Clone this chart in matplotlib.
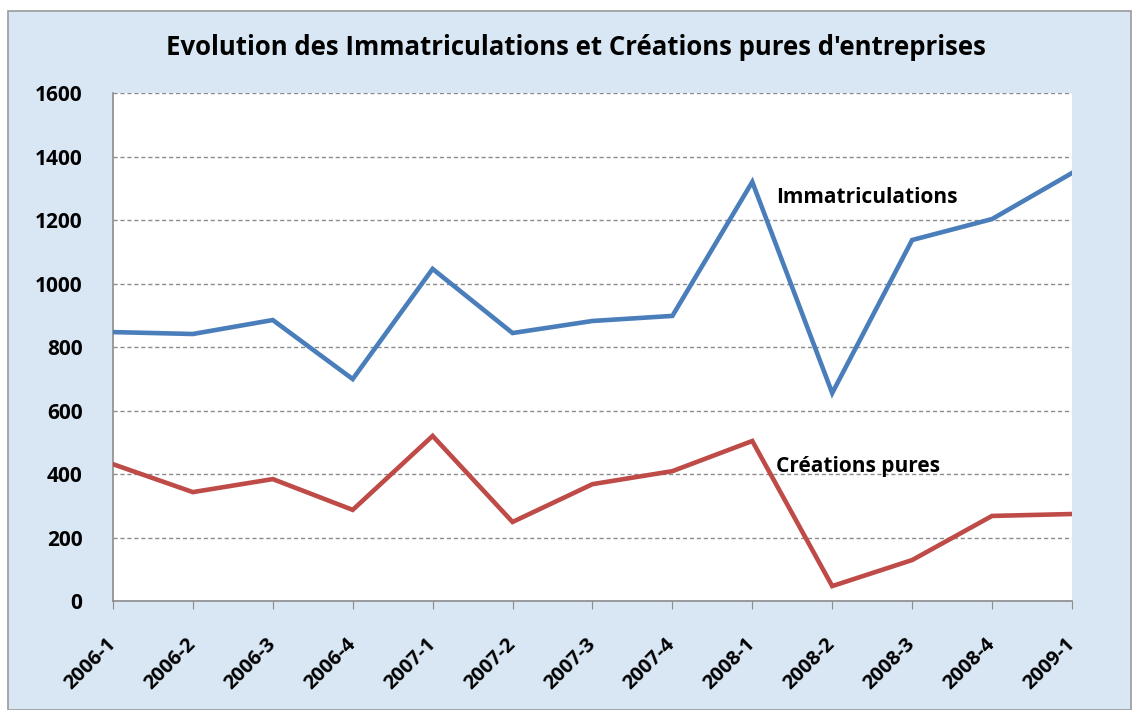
import matplotlib
matplotlib.use("Agg")
import matplotlib.pyplot as plt
from matplotlib.patches import Rectangle

plt.rcParams['font.family'] = ['Open Sans', 'DejaVu Sans']

# data
periodes = ['2006-1', '2006-2', '2006-3', '2006-4', '2007-1', '2007-2', '2007-3',
            '2007-4', '2008-1', '2008-2', '2008-3', '2008-4', '2009-1']
immatriculations = [847, 841, 885, 699, 1046, 844, 882, 898, 1320, 655, 1137, 1203, 1348]
creations_pures = [431, 343, 384, 287, 520, 249, 368, 409, 504, 47, 129, 268, 274]

fig = plt.figure(figsize=(11.34, 7.10), dpi=100)
fig.patch.set_facecolor('white')

# light blue chart area with grey border
fig.patches.append(Rectangle((0.007, 0.0), 0.99, 0.985, transform=fig.transFigure,
                             facecolor='#d9e6f3', edgecolor='#9a9a9a', linewidth=1.2, zorder=-1))

ax = fig.add_axes([0.0996, 0.1535, 0.8457, 0.7155])
ax.set_zorder(2)
ax.set_facecolor('white')

x = list(range(len(periodes)))
ax.plot(x, immatriculations, color='#4a7ebb', linewidth=3.3, solid_joinstyle='miter', zorder=3)
ax.plot(x, creations_pures, color='#be4b48', linewidth=3.3, solid_joinstyle='miter', zorder=3)

ax.set_xlim(0, len(periodes) - 1)
ax.set_ylim(0, 1600)
ax.set_yticks(range(0, 1601, 200))
ax.set_xticks(x)
ax.set_xticklabels(periodes, rotation=45, ha='right', va='center', rotation_mode='anchor',
                   fontsize=14.5, fontweight='bold')
for lab in ax.get_yticklabels():
    lab.set_fontsize(15)
    lab.set_fontweight('bold')

ax.grid(axis='y', linestyle=(0, (3, 2)), color='#8c8c8c', linewidth=1.0)
ax.set_axisbelow(True)
for s in ['top', 'right']:
    ax.spines[s].set_visible(False)
ax.spines['left'].set_color('#8c8c8c')
ax.spines['bottom'].set_color('#8c8c8c')
ax.spines['left'].set_linewidth(1.2)
ax.spines['bottom'].set_linewidth(1.2)
ax.tick_params(axis='y', length=0, pad=22)
ax.tick_params(axis='x', direction='out', length=6, color='#8c8c8c', pad=23)

ax.text(8.3, 1270, 'Immatriculations', fontsize=15, fontweight='bold', va='center')
ax.text(8.3, 425, 'Créations pures', fontsize=15, fontweight='bold', va='center')

fig.text(0.508, 0.933, "Evolution des Immatriculations et Créations pures d'entreprises",
         ha='center', va='center', fontsize=18.5, fontweight='bold')

fig.savefig('out.png', dpi=100)
